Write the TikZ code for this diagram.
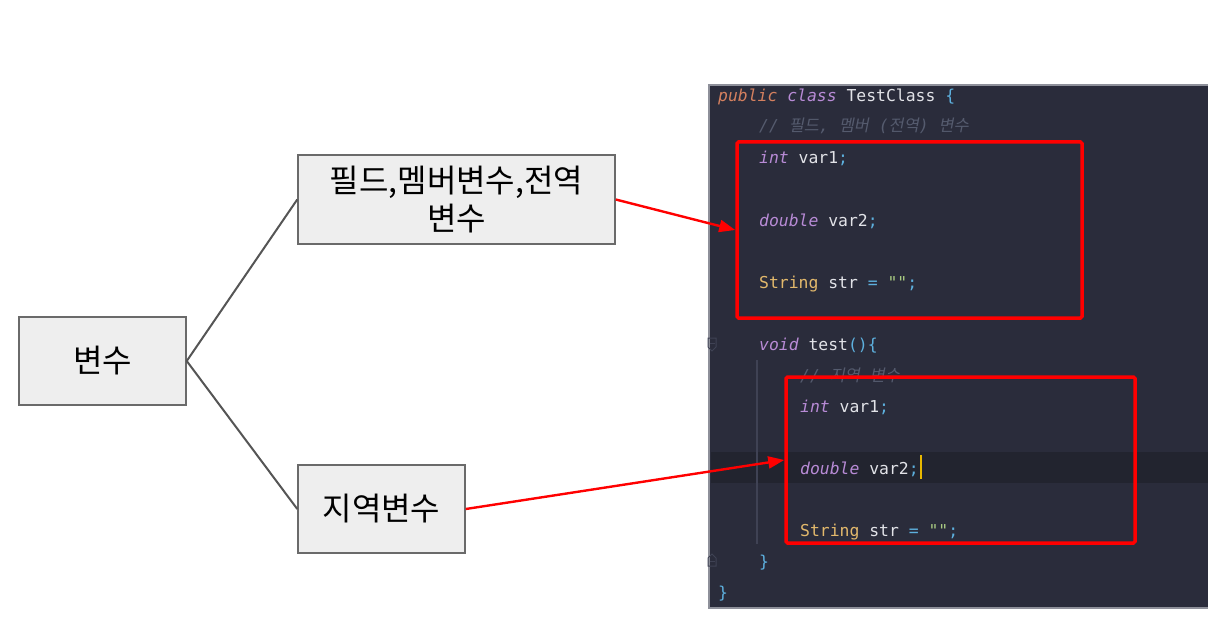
\documentclass[tikz,border=0pt]{standalone}
\usepackage{fontspec}
\usetikzlibrary{arrows.meta}
\newfontfamily\krfont{Noto Sans CJK KR}
\newfontfamily\krslant[FakeSlant=0.2]{Noto Sans CJK KR}
\newfontfamily\codefont{DejaVu Sans Mono}
\definecolor{panelbg}{HTML}{2A2C3B}
\definecolor{hlbg}{HTML}{22242F}
\definecolor{panelborder}{HTML}{8E909A}
\definecolor{guide}{HTML}{3F4254}
\definecolor{cKw}{HTML}{B88BD6}
\definecolor{cPub}{HTML}{D4805F}
\definecolor{cPlain}{HTML}{E2E3E8}
\definecolor{cPunct}{HTML}{5DB0DE}
\definecolor{cType}{HTML}{E3B96C}
\definecolor{cStr}{HTML}{A9CB82}
\definecolor{cCmt}{HTML}{555B6E}
\definecolor{caret}{HTML}{E8B800}
\definecolor{boxfill}{HTML}{EEEEEE}
\definecolor{boxline}{HTML}{6A6A6A}
\definecolor{linkgray}{HTML}{555555}
\definecolor{hotred}{HTML}{FF0000}
\newcommand\tkKw[1]{\textcolor{cKw}{\itshape #1}}
\newcommand\tkPub[1]{\textcolor{cPub}{\itshape #1}}
\newcommand\tkPl[1]{\textcolor{cPlain}{#1}}
\newcommand\tkPu[1]{\textcolor{cPunct}{#1}}
\newcommand\tkTy[1]{\textcolor{cType}{#1}}
\newcommand\tkSt[1]{\textcolor{cStr}{#1}}
\newcommand\tkKr[1]{{\krslant #1}}
\newcommand\tkCm[1]{\textcolor{cCmt}{\itshape #1}}
\newcommand\dq{\symbol{34}}
\begin{document}
\begin{tikzpicture}[x=1pt,y=-1pt,
  graybox/.style={draw=boxline,line width=1.5pt,fill=boxfill,rectangle,inner sep=0pt,
    font=\krfont\fontsize{32}{38}\selectfont,align=center},
  codetxt/.style={anchor=base west,inner sep=0pt,font=\codefont\fontsize{16.4}{20}\selectfont},
  redbox/.style={draw=hotred,line width=3.5pt,rounded corners=1.5pt,rectangle,inner sep=0pt},
  redarrow/.style={draw=hotred,line width=2.4pt,-{Triangle[length=16pt,width=12pt]}},
  link/.style={draw=linkgray,line width=2pt}]
\useasboundingbox (0,0) rectangle (1229,639);
% left diagram
\node[graybox,minimum width=167pt,minimum height=88pt] (v) at (102.5,361) {변수};
\node[graybox,minimum width=317pt,minimum height=89pt] (f) at (456.5,199.5) {필드,멤버변수,전역\\변수};
\node[graybox,minimum width=167pt,minimum height=88pt] (l) at (381.5,509) {지역변수};
\draw[link] (v.east) -- (f.west);
\draw[link] (v.east) -- (l.west);
% code panel
\fill[panelbg] (709,85) rectangle (1208,608);
\fill[hlbg] (711,452) rectangle (1208,483);
\draw[panelborder,line width=1.5pt] (1208,85) -- (709,85) -- (709,608) -- (1208,608);
\draw[guide,line width=1.2pt] (757,360) -- (757,544);
% fold markers
\draw[guide,line width=1pt] (708,338) -- (716,338) -- (716,347) -- (712,351) -- (708,347) -- cycle;
\draw[guide,line width=1pt] (709.5,343) -- (714.5,343);
\draw[guide,line width=1pt] (708,566) -- (716,566) -- (716,558) -- (712,554) -- (708,558) -- cycle;
\draw[guide,line width=1pt] (709.5,561) -- (714.5,561);
% code lines
\node[codetxt] (c0) at (718,102) {\tkPub{public} \tkKw{class} \tkPl{TestClass} \tkPu{\{}};
\node[codetxt] (c1) at (759,132) {\tkCm{// \tkKr{필드}, \tkKr{멤버} (\tkKr{전역}) \tkKr{변수}}};
\node[codetxt] (c2) at (759,164) {\tkKw{int} \tkPl{var1}\tkPu{;}};
\node[codetxt] (c4) at (759,226) {\tkKw{double} \tkPl{var2}\tkPu{;}};
\node[codetxt] (c6) at (759,288) {\tkTy{String} \tkPl{str} \tkPu{=} \tkSt{\dq\dq}\tkPu{;}};
\node[codetxt] (c8) at (759,350) {\tkKw{void} \tkPl{test}\tkPu{()\{}};
\node[codetxt] (c9) at (800,381) {\tkCm{// \tkKr{지역} \tkKr{변수}}};
\node[codetxt] (c10) at (800,412) {\tkKw{int} \tkPl{var1}\tkPu{;}};
\node[codetxt] (c12) at (800,474) {\tkKw{double} \tkPl{var2}\tkPu{;}};
\node[codetxt] (c14) at (800,536) {\tkTy{String} \tkPl{str} \tkPu{=} \tkSt{\dq\dq}\tkPu{;}};
\node[codetxt] (c15) at (759,567) {\tkPu{\}}};
\node[codetxt] (c16) at (718,598) {\tkPu{\}}};
\draw[caret,line width=2pt] (c12.base east) ++(2,5) -- ++(0,-24);
% red highlight boxes
\node[redbox,minimum width=345pt,minimum height=176pt] (rb1) at (909.5,230) {};
\node[redbox,minimum width=349pt,minimum height=166pt] (rb2) at (960.5,460) {};
% red arrows
\draw[redarrow] (f.east) -- (rb1.west);
\draw[redarrow] (l.east) -- (rb2.west);
\end{tikzpicture}
\end{document}
